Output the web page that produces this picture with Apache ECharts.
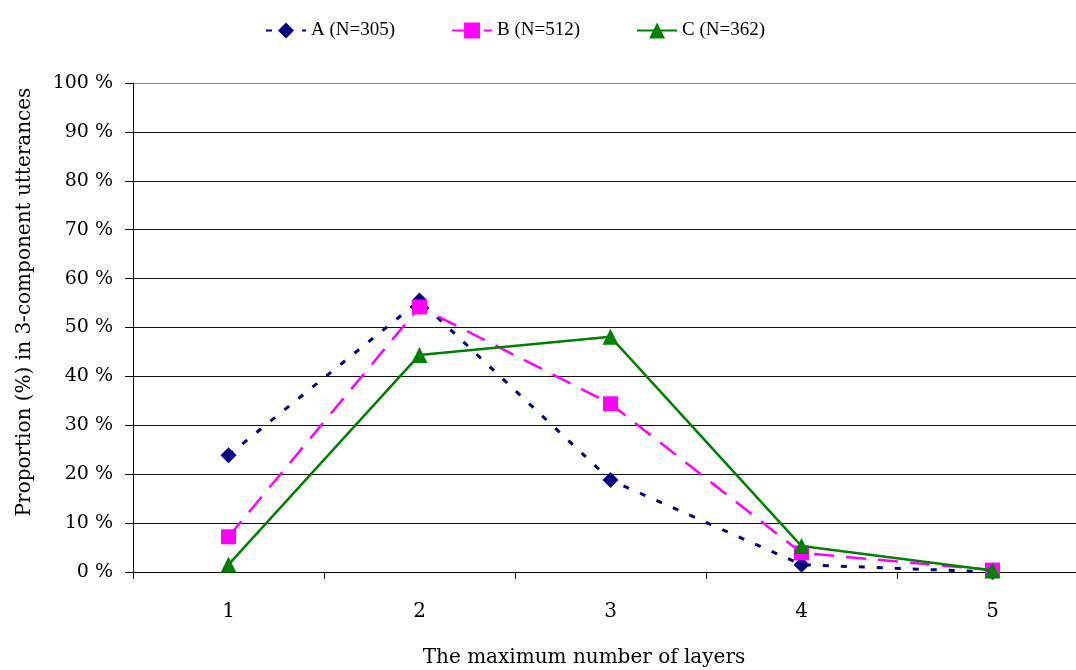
<!DOCTYPE html>
<html>
<head>
<meta charset="utf-8">
<script src="https://cdn.jsdelivr.net/npm/echarts@6/dist/echarts.min.js"></script>
<style>
html,body{margin:0;padding:0;background:#fff;}
#chart{width:1076px;height:670px;}
</style>
</head>
<body>
<div id="chart"></div>
<script>
var categories = ['1', '2', '3', '4', '5'];
var seriesA = [23.9, 55.5, 18.8, 1.5, 0.0];
var seriesB = [7.2, 54.2, 34.4, 3.9, 0.4];
var seriesC = [1.5, 44.4, 48.1, 5.3, 0.3];
var seriesNames = ['A (N=305)', 'B (N=512)', 'C (N=362)'];
var yTicks = [0, 10, 20, 30, 40, 50, 60, 70, 80, 90, 100];

var FONT = 'DejaVu Serif';
var splitColors = yTicks.map(function (t, i) { return i === yTicks.length - 1 ? '#8a8a8a' : '#111'; });

var chart = echarts.init(document.getElementById('chart'));
chart.setOption({
  animation: false,
  backgroundColor: '#fff',
  textStyle: { fontFamily: FONT },
  legend: {
    top: 16,
    left: 260,
    itemWidth: 40,
    itemHeight: 20,
    itemGap: 56,
    textStyle: { fontFamily: 'Liberation Serif', fontSize: 19, color: '#000' },
    data: seriesNames
  },
  grid: { left: 133, top: 83, width: 955, bottom: 98, outerBoundsMode: 'none', containLabel: false },
  xAxis: {
    type: 'category',
    data: categories,
    boundaryGap: true,
    axisLine: { lineStyle: { color: '#000', width: 1 } },
    axisTick: { show: true, length: 7, lineStyle: { color: '#000' } },
    axisLabel: { color: '#000', fontFamily: FONT, fontSize: 20, margin: 30 },
    splitLine: { show: false }
  },
  yAxis: {
    type: 'value',
    min: yTicks[0],
    max: yTicks[yTicks.length - 1],
    interval: 10,
    axisLine: { show: true, lineStyle: { color: '#000', width: 1 } },
    axisTick: { show: true, length: 8, lineStyle: { color: '#000' } },
    axisLabel: { color: '#000', fontFamily: FONT, fontSize: 19, margin: 20, formatter: '{value} %' },
    splitLine: { show: true, lineStyle: { color: splitColors, width: 1 } }
  },
  graphic: [
    {
      type: 'text',
      x: 584, y: 658,
      style: { text: 'The maximum number of layers', fontFamily: FONT, fontSize: 20, fill: '#000', textAlign: 'center', textVerticalAlign: 'middle' }
    },
    {
      type: 'text',
      x: 25, y: 302,
      rotation: Math.PI / 2,
      style: { text: 'Proportion (%) in 3-component utterances', fontFamily: FONT, fontSize: 20, fill: '#000', textAlign: 'center', textVerticalAlign: 'middle' }
    }
  ],
  series: [
    {
      name: seriesNames[0], type: 'line', data: seriesA,
      symbol: 'diamond', symbolSize: 16,
      itemStyle: { color: '#000080' },
      lineStyle: { color: '#000080', width: 3, type: [6, 12] },
      z: 2
    },
    {
      name: seriesNames[1], type: 'line', data: seriesB,
      symbol: 'rect', symbolSize: 15,
      itemStyle: { color: '#FF00FF' },
      lineStyle: { color: '#FF00FF', width: 2.5, type: [20, 12] },
      z: 3
    },
    {
      name: seriesNames[2], type: 'line', data: seriesC,
      symbol: 'triangle', symbolSize: 16,
      itemStyle: { color: '#008000' },
      lineStyle: { color: '#008000', width: 2.5 },
      z: 4
    }
  ]
});
</script>
</body>
</html>
